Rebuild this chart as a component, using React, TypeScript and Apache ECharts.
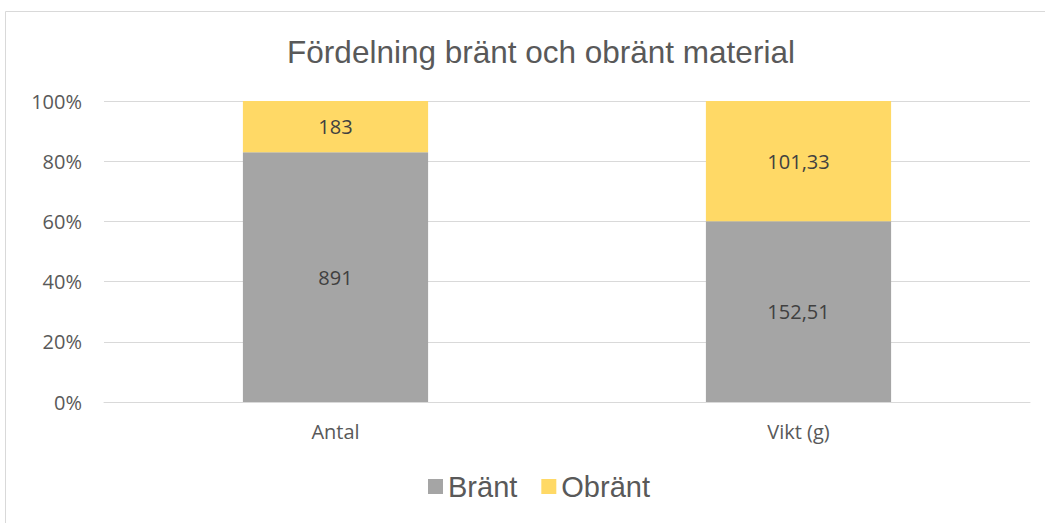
import React, { useEffect, useRef } from "react";
import * as echarts from "echarts";

const categories = ["Antal", "Vikt (g)"];
const brantValues = [891, 152.51];
const obrantValues = [183, 101.33];
const brantLabels = ["891", "152,51"];
const obrantLabels = ["183", "101,33"];
const yTicks = [0, 20, 40, 60, 80, 100];

export default function App() {
  const ref = useRef<HTMLDivElement>(null);
  useEffect(() => {
    document.body.style.margin = "0";
    const chart = echarts.init(ref.current!, null, { renderer: "svg" });
    const totals = brantValues.map((v, i) => v + obrantValues[i]);
    const brantPct = brantValues.map((v, i) => (v / totals[i]) * 100);
    const obrantPct = obrantValues.map((v, i) => (v / totals[i]) * 100);
    const labelStyle = {
      show: true,
      position: "inside" as const,
      color: "#404040",
      fontSize: 20,
      fontFamily: "Open Sans",
    };
    chart.setOption({
      animation: false,
      backgroundColor: "#ffffff",
      graphic: [
        {
          type: "rect",
          shape: { x: 5.5, y: 11.5, width: 1045, height: 520 },
          style: { fill: "none", stroke: "#d9d9d9", lineWidth: 1 },
          silent: true,
        },
      ],
      title: {
        text: "Fördelning bränt och obränt material",
        left: 536,
        textAlign: "center",
        top: 31,
        textStyle: {
          color: "#595959",
          fontSize: 31.5,
          fontWeight: "normal",
          fontFamily: "Liberation Sans",
        },
      },
      legend: {
        top: 472,
        left: 428,
        itemWidth: 15,
        itemHeight: 15,
        itemGap: 24,
        icon: "rect",
        padding: 0,
        textStyle: { color: "#595959", fontSize: 29, fontFamily: "Liberation Sans", padding: [0, 0, 0, 0] },
        data: ["Bränt", "Obränt"],
      },
      grid: { left: 104, right: 15, top: 101, bottom: 121, containLabel: false },
      xAxis: {
        type: "category",
        data: categories,
        axisLine: { lineStyle: { color: "#d9d9d9" } },
        axisTick: { show: false },
        axisLabel: { color: "#595959", fontSize: 20, fontFamily: "Open Sans", margin: 19 },
      },
      yAxis: {
        type: "value",
        min: yTicks[0],
        max: yTicks[yTicks.length - 1],
        interval: 20,
        axisLine: { show: false },
        axisTick: { show: false },
        splitLine: { lineStyle: { color: "#d9d9d9" } },
        axisLabel: {
          color: "#595959",
          fontSize: 20,
          fontFamily: "Open Sans",
          margin: 22,
          formatter: (v: number) => `${v}%`,
        },
      },
      series: [
        {
          name: "Bränt",
          type: "bar",
          stack: "total",
          barWidth: "40%",
          itemStyle: { color: "#a5a5a5" },
          data: brantPct,
          label: { ...labelStyle, formatter: (p: any) => brantLabels[p.dataIndex] },
        },
        {
          name: "Obränt",
          type: "bar",
          stack: "total",
          itemStyle: { color: "#ffd966" },
          data: obrantPct,
          label: { ...labelStyle, formatter: (p: any) => obrantLabels[p.dataIndex] },
        },
      ],
    });
    return () => chart.dispose();
  }, []);
  return <div ref={ref} style={{ position: "absolute", left: 0, top: 0, width: 1045, height: 523 }} />;
}
